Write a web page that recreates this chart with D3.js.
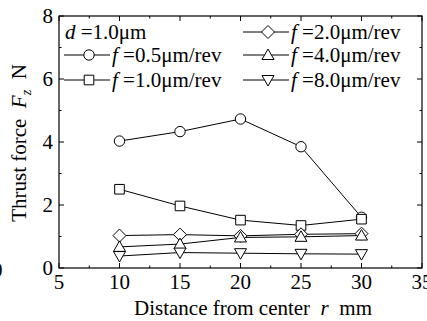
<!DOCTYPE html>
<html>
<head>
<meta charset="utf-8">
<script src="https://cdn.jsdelivr.net/npm/d3@7"></script>
<style>
body{margin:0;background:#fff;}
svg{display:block;font-family:"Liberation Serif","Times New Roman",serif;}
text{white-space:pre;}
</style>
</head>
<body>
<svg id="chart" width="427" height="321"></svg>
<script>
// distance from center r (mm)
var distances = [10, 15, 20, 25, 30];
// thrust force Fz (N) per feed
var f05 = [4.03, 4.33, 4.73, 3.85, 1.61];
var f10 = [2.50, 1.97, 1.52, 1.35, 1.55];
var f20 = [1.03, 1.06, 1.02, 1.07, 1.09];
var f40 = [0.67, 0.76, 0.97, 0.99, 1.03];
var f80 = [0.38, 0.49, 0.47, 0.45, 0.44];
var xTicks = [5, 10, 15, 20, 25, 30, 35];
var yTicks = [0, 2, 4, 6, 8];

var series = [
  {label: "0.5", vals: f05, shape: "circle"},
  {label: "1.0", vals: f10, shape: "square"},
  {label: "2.0", vals: f20, shape: "diamond"},
  {label: "4.0", vals: f40, shape: "up"},
  {label: "8.0", vals: f80, shape: "down"}
];

var svg = d3.select("#chart");
var m = {l: 59, t: 16, r: 422, b: 268};
var x = d3.scaleLinear().domain([5, 35]).range([m.l, m.r]);
var y = d3.scaleLinear().domain([0, 8]).range([m.b, m.t]);
var fs = 21;

function marker(g, shape, cx, cy){
  var p;
  if(shape === "circle"){
    g.append("circle").attr("cx", cx).attr("cy", cy).attr("r", 5.2)
      .attr("fill", "#fff").attr("stroke", "#000").attr("stroke-width", 1);
    return;
  }
  if(shape === "square") p = [[-4.8,-4.8],[4.8,-4.8],[4.8,4.8],[-4.8,4.8]];
  if(shape === "diamond") p = [[0,-6.5],[6.5,0],[0,6.5],[-6.5,0]];
  if(shape === "up") p = [[0,-6],[6,4.5],[-6,4.5]];
  if(shape === "down") p = [[0,6],[6,-4.5],[-6,-4.5]];
  g.append("polygon").attr("points", p.map(d => (cx + d[0]) + "," + (cy + d[1])).join(" "))
    .attr("fill", "#fff").attr("stroke", "#000").attr("stroke-width", 1);
}

// frame
svg.append("rect").attr("x", m.l).attr("y", m.t).attr("width", m.r - m.l).attr("height", m.b - m.t)
  .attr("fill", "none").attr("stroke", "#000").attr("stroke-width", 1.2);

// inward ticks, all four sides
d3.range(5, 35.1, 2.5).forEach(function(v){
  var len = v % 5 === 0 ? 5 : 2.5;
  svg.append("line").attr("x1", x(v)).attr("x2", x(v)).attr("y1", m.b).attr("y2", m.b - len).attr("stroke", "#000");
  svg.append("line").attr("x1", x(v)).attr("x2", x(v)).attr("y1", m.t).attr("y2", m.t + len).attr("stroke", "#000");
});
d3.range(0, 8.1, 1).forEach(function(v){
  var len = v % 2 === 0 ? 5 : 2.5;
  svg.append("line").attr("y1", y(v)).attr("y2", y(v)).attr("x1", m.l).attr("x2", m.l + len).attr("stroke", "#000");
  svg.append("line").attr("y1", y(v)).attr("y2", y(v)).attr("x1", m.r).attr("x2", m.r - len).attr("stroke", "#000");
});

// tick labels
svg.selectAll(".xt").data(xTicks).enter().append("text")
  .attr("x", d => x(d)).attr("y", 289).attr("text-anchor", "middle")
  .attr("font-size", fs).text(d => d);
svg.selectAll(".yt").data(yTicks).enter().append("text")
  .attr("x", 53).attr("y", d => y(d) + 7).attr("text-anchor", "end")
  .attr("font-size", fs).text(d => d);

// axis titles
var xl = svg.append("text").attr("x", 253).attr("y", 315).attr("text-anchor", "middle").attr("font-size", fs);
xl.append("tspan").text("Distance from center  ");
xl.append("tspan").attr("font-style", "italic").text("r");
xl.append("tspan").text("  mm");

var yl = svg.append("text").attr("transform", "translate(26,143) rotate(-90)")
  .attr("text-anchor", "middle").attr("font-size", fs);
yl.append("tspan").text("Thrust force  ");
yl.append("tspan").attr("font-style", "italic").text("F");
yl.append("tspan").attr("font-style", "italic").attr("font-size", 14).attr("dy", 5).text("z");
yl.append("tspan").attr("dy", -5).text("  N");

// clipped label at left edge
svg.append("text").attr("x", -8).attr("y", 277).attr("font-size", fs).text("0");

// series lines and markers
var line = d3.line().x((d, i) => x(distances[i])).y(d => y(d));
series.forEach(function(s){
  svg.append("path").attr("d", line(s.vals)).attr("fill", "none").attr("stroke", "#000").attr("stroke-width", 1);
});
series.forEach(function(s){
  var g = svg.append("g");
  s.vals.forEach(function(v, i){ marker(g, s.shape, x(distances[i]), y(v)); });
});

// legend
var dl = svg.append("text").attr("x", 65).attr("y", 39).attr("font-size", fs);
dl.append("tspan").attr("font-style", "italic").text("d");
dl.append("tspan").text(" =1.0μm");
var legPos = [
  {s: series[0], x0: 64, cy: 55},
  {s: series[1], x0: 64, cy: 80},
  {s: series[2], x0: 243, cy: 32},
  {s: series[3], x0: 243, cy: 55},
  {s: series[4], x0: 243, cy: 80}
];
legPos.forEach(function(l){
  var g = svg.append("g");
  g.append("line").attr("x1", l.x0).attr("x2", l.x0 + 46).attr("y1", l.cy).attr("y2", l.cy).attr("stroke", "#000");
  marker(g, l.s.shape, l.x0 + 25, l.cy);
  var t = g.append("text").attr("x", l.x0 + 48).attr("y", l.cy + 7).attr("font-size", fs);
  t.append("tspan").attr("font-style", "italic").text("f");
  t.append("tspan").text(" =" + l.s.label + "μm/rev");
});
</script>
</body>
</html>
